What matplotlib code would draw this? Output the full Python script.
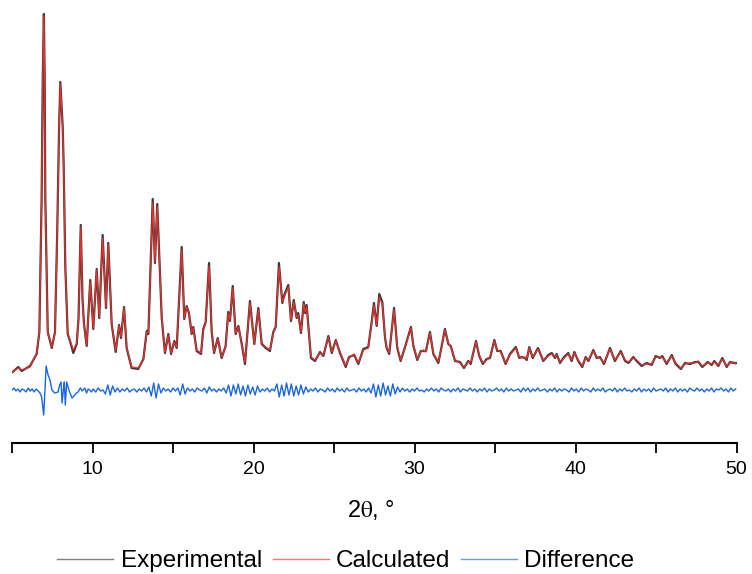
import numpy as np
import matplotlib
matplotlib.use("Agg")
import matplotlib.pyplot as plt

plt.rcParams['font.family'] = ['Liberation Sans', 'DejaVu Sans']
plt.rcParams['mathtext.fontset'] = 'stix'

# ---- data (2theta in degrees, intensity in arbitrary units) ----
two_theta = [5.04, 5.39, 5.60, 6.12, 6.53, 6.70, 6.84, 6.91, 6.98, 7.03, 7.07, 7.22, 7.47, 7.67, 7.81, 7.92,
             8.00, 8.09, 8.15, 8.21, 8.31, 8.46, 8.60, 8.81, 9.02, 9.13, 9.27, 9.38, 9.47, 9.64, 9.86, 10.05,
             10.26, 10.42, 10.63, 10.84, 10.98, 11.19, 11.44, 11.65, 11.77, 11.96, 12.12, 12.43, 12.84, 13.16,
             13.37, 13.47, 13.74, 13.88, 14.02, 14.30, 14.50, 14.71, 14.88, 15.08, 15.23, 15.54, 15.70, 15.85,
             15.99, 16.16, 16.26, 16.47, 16.74, 16.88, 17.03, 17.24, 17.40, 17.55, 17.78, 18.02, 18.27, 18.43,
             18.54, 18.71, 18.89, 19.06, 19.27, 19.47, 19.78, 20.05, 20.30, 20.51, 20.76, 21.02, 21.23, 21.38,
             21.58, 21.79, 21.91, 22.16, 22.33, 22.50, 22.68, 22.78, 22.95, 23.12, 23.20, 23.30, 23.57, 23.82,
             24.13, 24.34, 24.65, 24.86, 25.11, 25.37, 25.73, 25.93, 26.26, 26.51, 26.82, 27.13, 27.34, 27.48,
             27.65, 27.81, 28.00, 28.17, 28.27, 28.43, 28.73, 28.93, 29.14, 29.41, 29.78, 29.93, 30.17, 30.39,
             30.55, 30.71, 30.96, 31.17, 31.48, 31.69, 31.89, 32.10, 32.25, 32.52, 32.83, 33.07, 33.34, 33.49,
             33.82, 34.02, 34.24, 34.48, 34.69, 34.96, 35.14, 35.35, 35.66, 35.93, 36.29, 36.51, 36.66, 36.86,
             36.97, 37.13, 37.34, 37.67, 38.00, 38.31, 38.52, 38.73, 38.83, 39.04, 39.29, 39.55, 39.76, 39.93,
             40.17, 40.42, 40.63, 40.80, 41.11, 41.32, 41.52, 41.77, 42.14, 42.45, 42.81, 43.08, 43.29, 43.59,
             43.80, 44.11, 44.42, 44.73, 44.98, 45.25, 45.39, 45.66, 45.98, 46.22, 46.55, 46.80, 47.11, 47.42,
             47.63, 47.88, 48.21, 48.46, 48.62, 48.87, 49.12, 49.39, 49.60, 49.81, 49.96]

calculated = [71, 75, 73, 76, 90, 110, 243, 363, 427, 363, 243, 110, 96, 110, 210, 310,
              359, 333, 315, 276, 176, 110, 103, 93, 100, 123, 216, 143, 120, 98, 161, 115,
              173, 126, 205, 136, 198, 120, 93, 117, 106, 135, 96, 76, 75, 83,
              111, 110, 240, 181, 236, 126, 91, 108, 90, 101, 96, 193, 125, 136,
              131, 110, 115, 93, 90, 113, 120, 177, 113, 91, 104, 86, 96, 130,
              123, 155, 110, 116, 100, 81, 140, 100, 133, 100, 96, 93, 110, 115,
              176, 141, 146, 156, 123, 141, 126, 128, 111, 139, 131, 136, 86, 83,
              90, 88, 106, 91, 102, 91, 77, 85, 89, 80, 93, 95, 120, 138,
              118, 146, 139, 106, 96, 90, 133, 96, 83, 95, 115, 98, 84, 91,
              93, 91, 110, 90, 81, 96, 113, 100, 96, 83, 80, 76, 81, 80,
              101, 88, 80, 83, 86, 102, 93, 91, 80, 88, 95, 86, 85, 86,
              84, 95, 86, 94, 83, 87, 89, 86, 88, 81, 85, 89, 83, 90,
              83, 77, 85, 83, 92, 86, 85, 80, 94, 83, 91, 83, 81, 85,
              83, 78, 79, 79, 86, 86, 86, 80, 87, 80, 75, 79, 80, 80,
              82, 77, 80, 79, 81, 78, 84, 77, 80, 81, 79]

experimental = [71, 76, 72, 77, 89, 111, 245, 365, 429, 364, 244, 111, 95, 111, 212, 312,
                361, 335, 316, 277, 177, 109, 102, 90, 99, 124, 218, 144, 119, 97, 163, 114,
                174, 125, 208, 135, 200, 119, 91, 118, 105, 136, 95, 75, 74, 84,
                112, 109, 244, 180, 239, 125, 90, 109, 89, 102, 95, 196, 124, 137,
                130, 109, 116, 92, 89, 114, 121, 180, 112, 90, 105, 85, 97, 131,
                122, 157, 109, 117, 99, 79, 142, 99, 135, 99, 95, 92, 111, 116,
                180, 140, 148, 158, 122, 143, 125, 130, 110, 141, 130, 138, 85, 82,
                91, 87, 107, 90, 103, 90, 76, 86, 88, 79, 94, 96, 121, 140,
                117, 149, 141, 105, 95, 89, 135, 95, 82, 96, 116, 97, 83, 92,
                92, 92, 111, 89, 80, 97, 114, 99, 97, 82, 81, 75, 82, 79,
                102, 87, 79, 84, 85, 103, 92, 92, 79, 89, 96, 85, 86, 85,
                83, 96, 85, 95, 82, 88, 90, 85, 89, 80, 86, 90, 82, 91,
                82, 76, 86, 82, 93, 85, 86, 79, 95, 82, 92, 82, 80, 86,
                82, 77, 80, 78, 87, 85, 87, 79, 88, 79, 74, 80, 79, 81,
                81, 76, 81, 78, 82, 77, 85, 76, 81, 80, 80]

# difference (experimental - calculated), first part on an irregular grid
diff_head_x = [5.00, 5.12, 5.25, 5.37, 5.50, 5.62, 5.75, 5.87, 6.00, 6.12, 6.25, 6.37, 6.50, 6.62, 6.74,
               6.84, 6.97, 7.12, 7.24, 7.36, 7.48, 7.65, 7.86, 7.96, 8.05, 8.11, 8.19, 8.25, 8.31, 8.40,
               8.48, 8.58, 8.73, 8.90, 9.00, 9.11, 9.20, 9.27, 9.35, 9.42, 9.52, 9.63, 9.73, 9.83, 9.93]
diff_head = [0, 2, -1, 1, -2, 1, 0, -2, 2, -1, 1, -2, 1, -1, -3,
             -7, -25, 24, 15, 10, 0, -3, -2, 5, 8, -13, 0, 8, -15, 8,
             3, -2, -8, -5, -3, -2, 1, 2, -1, 0, 2, -3, 1, 0, -2]
# remaining part on a 0.15 degree step starting at 10.05
diff_tail = [1, -2, 2, -1, 0, -4, 5, -5, 4, -2, 2, -2, 1, -1, 2, -2, 0, 1, -2, 1,
             -1, 2, -2, 3, -6, 7, -8, 6, -3, 2, -1, 1, -2, 2, -1, 2, -5, 6, -4, 2,
             -1, 1, -2, 2, 0, -1, 2, -3, 3, -1, 1, -2, 1, -1, 2, -3, 5, -6, 5, -4,
             6, -5, 4, -6, 5, -4, 3, -5, 4, -2, 1, -1, 2, -2, 1, -1, 6, -7, 5, -6,
             7, -5, 6, -6, 4, -5, 5, -4, 3, -2, 1, -1, 2, -2, 1, 0, -2, 2, -1, 1,
             -2, 2, -1, 1, -2, 2, -1, 0, 1, -2, 2, -1, 1, -2, 2, -3, 6, -7, 5, -6,
             7, -5, 4, -6, 6, -4, 3, -2, 2, -1, 1, -2, 1, -1, 2, -1, 0, -2, 1, -1,
             2, -1, 1, -2, 2, 0, -1, 1, -2, 1, -1, 2, -2, 1, 0, -1, 2, -1, 1, -2,
             1, -1, 2, -2, 1, -1, 0, 2, -1, 1, -2, 2, -1, 1, -1, 0, 1, -2, 2, -1,
             2, -2, 1, -1, 2, -1, 0, 1, -2, 1, -1, 2, -2, 1, -1, 1, 0, -2, 2, -1,
             1, -2, 2, -1, 1, 0, -2, 2, -1, 1, -1, 2, -2, 0, 1, -1, 2, -2, 1, -1,
             2, -1, 0, -2, 1, -1, 2, -2, 1, -1, 1, -2, 2, -1, 0, 1, -1, 2, -2, 1,
             -1, 2, -2, 1, -1, 1, -2, 2, 0, -1, 2, -1, 1, -2, 1, -1, 2, -2, 1, 0,
             2, -1, 1, -2, 2, -1, 1]
diff_tail_start = 10.05
diff_tail_step = 0.15

diff_offset = 53   # vertical shift of the difference curve

x_ticks = [10, 20, 30, 40, 50]
x_label = r"2$\mathrm{\theta}$, °"
series_names = ["Experimental", "Calculated", "Difference"]

# ---- figure ----
W, H = 752, 574
fig = plt.figure(figsize=(W / 100, H / 100), dpi=100)
ax = fig.add_axes([12 / W, 1 - 443 / H, (736.5 - 12) / W, (443 - 10) / H])

diff_x = np.concatenate([diff_head_x,
                         diff_tail_start + diff_tail_step * np.arange(len(diff_tail))])
diff_y = np.concatenate([diff_head, diff_tail]) + diff_offset

l1, = ax.plot(two_theta, experimental, color='#3a3a3a', lw=1.6, label=series_names[0], zorder=2)
l2, = ax.plot(two_theta, calculated, color='#e8302c', lw=0.9, label=series_names[1], zorder=3)
l3, = ax.plot(diff_x, diff_y, color='#1a66e0', lw=1.0, label=series_names[2], zorder=2)

ax.set_xlim(5, 50)
ax.set_ylim(0, 433)
for s in ['left', 'right', 'top']:
    ax.spines[s].set_visible(False)
ax.spines['bottom'].set_linewidth(1.5)
ax.set_yticks([])
ax.set_xticks(x_ticks)
ax.set_xticks([5, 15, 25, 35, 45], minor=True)
ax.tick_params(axis='x', which='both', direction='out', length=7, width=1.3, color='black')
ax.tick_params(axis='x', which='major', labelsize=14, pad=6)
ax.patch.set_alpha(0)

fig.text(371 / W, 1 - 510 / H, x_label, ha='center', va='center', fontsize=17)

leg = fig.legend(handles=[l1, l2, l3], loc='center', bbox_to_anchor=(346 / W, 1 - 561 / H),
                 ncol=3, frameon=False, fontsize=17.5, handlelength=2.3,
                 handletextpad=0.3, columnspacing=0.45, borderpad=0)
for ln in leg.get_lines():
    ln.set_linewidth(1.0)
    ln.set_alpha(0.65)

fig.savefig("out.png", dpi=100)
